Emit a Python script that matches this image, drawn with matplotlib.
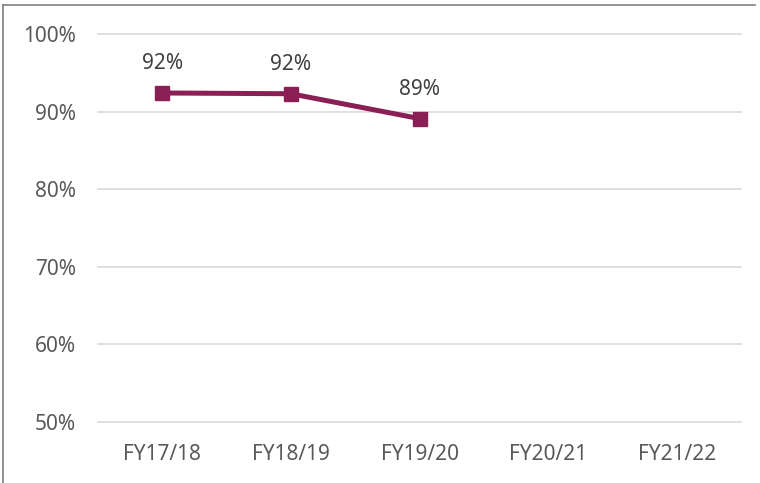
import matplotlib
matplotlib.use("Agg")
import matplotlib.pyplot as plt
from matplotlib.lines import Line2D
from matplotlib.ticker import PercentFormatter

years = ["FY17/18", "FY18/19", "FY19/20", "FY20/21", "FY21/22"]
rates = [0.924, 0.923, 0.891]
rate_labels = ["92%", "92%", "89%"]

plt.rcParams["font.family"] = ["Noto Sans", "DejaVu Sans"]
text_color = "#595959"
line_color = "#8a1f55"
fsize = 15

fig = plt.figure(figsize=(7.6, 4.83), dpi=100)
ax = fig.add_axes([98 / 760, 61 / 483, 643 / 760, 388 / 483])

x = list(range(len(rates)))
ax.plot(x, rates, color=line_color, linewidth=3.6, marker="s",
        markersize=10, solid_joinstyle="miter", zorder=3)

for xi, val, lab in zip(x, rates, rate_labels):
    ax.annotate(lab, (xi, val), xytext=(0, 13.5), textcoords="offset points",
                ha="center", va="bottom", fontsize=fsize, color="#404040")

ax.set_xlim(-0.5, len(years) - 0.5)
ax.set_ylim(0.5, 1.0)
ax.set_xticks(range(len(years)))
ax.set_xticklabels(years)
ax.set_yticks([0.5, 0.6, 0.7, 0.8, 0.9, 1.0])
ax.yaxis.set_major_formatter(PercentFormatter(1.0, decimals=0))
ax.tick_params(length=0, labelsize=fsize, labelcolor=text_color)
ax.tick_params(axis="x", pad=16)
ax.tick_params(axis="y", pad=16)

ax.grid(axis="y", color="#d9d9d9", linewidth=1.2)
ax.set_axisbelow(True)
for s in ax.spines.values():
    s.set_visible(False)
for gl in ax.get_ygridlines():
    gl.set_clip_on(False)

# outer frame: top and left edges only
fig.add_artist(Line2D([3 / 760, 755 / 760], [1 - 5 / 483, 1 - 5 / 483],
                      color="#7f7f7f", linewidth=1.2))
fig.add_artist(Line2D([3 / 760, 3 / 760], [0, 1 - 5 / 483],
                      color="#7f7f7f", linewidth=1.2))

fig.savefig("out.png", dpi=100)
